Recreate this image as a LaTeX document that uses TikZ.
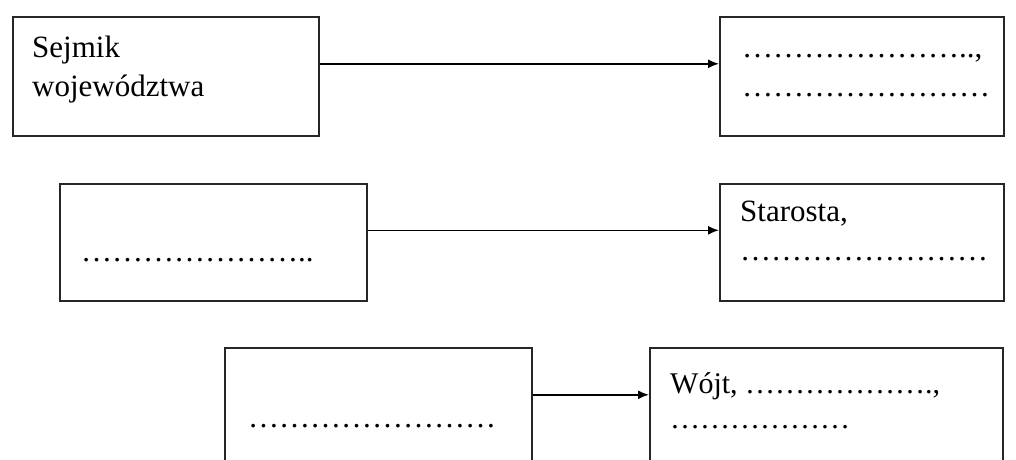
\documentclass[tikz,border=0pt]{standalone}
\usepackage{fontspec}
\setmainfont{Liberation Serif}
\usetikzlibrary{arrows.meta}

% one ellipsis character, three dots
\newcommand{\el}{…}

\tikzset{
  box/.style={draw=black!85, line width=1.6pt, anchor=north west,
    inner sep=0pt, minimum height=119pt},
  txt/.style={anchor=base west, inner sep=0pt, align=left,
    font=\fontsize{31}{39}\selectfont},
  link/.style={draw=black, line width=1.6pt,
    -{Latex[length=11pt,width=9pt]}}
}

\begin{document}
\begin{tikzpicture}[x=1pt,y=-1pt]
      \useasboundingbox (0,0) rectangle (1016,459);
      \clip (0,0) rectangle (1016,459);
      % Sejmik:
      %   top row, left box, linked to the right box
      \node[box, minimum width=306pt] (sejmik) at (12,16) {};
      \node[txt] (sejmiktxt) at ([xshift=20pt,yshift=-80pt]sejmik.north west)
        {Sejmik\\województwa};
      \node[box, minimum width=284pt] (zarzad) at (719,16) {};
      \node[txt] (zarzadtxt) at ([xshift=23pt,yshift=-80pt]zarzad.north west)
        {\el\el\el\el\el\el\el..,\\\el\el\el\el\el\el\el\el};
      % Powiat:
      %   middle row, left box is empty but for the dots
      \node[box, minimum width=307pt, minimum height=117pt] (rada) at (59,183) {};
      \node[txt] (radatxt) at ([xshift=22pt,yshift=-78pt]rada.north west)
        {\el\el\el\el\el\el\el..};
      \node[box, minimum width=284pt, minimum height=117pt] (starosta) at (719,183) {};
      \node[txt] (starostatxt) at ([xshift=21pt,yshift=-77pt]starosta.north west)
        {Starosta,\\\el\el\el\el\el\el\el\el};
      % Gmina:
      %   bottom row, both boxes run off the page
      \node[box, minimum width=307pt, minimum height=140pt] (gmina) at (224,347) {};
      \node[txt] (gminatxt) at ([xshift=24pt,yshift=-80pt]gmina.north west)
        {\el\el\el\el\el\el\el\el};
      \node[box, minimum width=353pt, minimum height=140pt] (wojt) at (649,347) {};
      \node[txt, font=\fontsize{30}{35}\selectfont] (wojttxt)
        at ([xshift=21pt,yshift=-81pt]wojt.north west)
        {Wójt, \el\el\el\el\el\el.,\\\el\el\el\el\el\el};
      % links
      \draw[link] ([yshift=12.5pt]sejmik.east) -- ([yshift=12.5pt]zarzad.west);
      \draw[link] ([yshift=12pt]rada.east) -- ([yshift=12pt]starosta.west);
      \draw[link] ([yshift=23pt]gmina.east) -- ([yshift=23pt]wojt.west);
\end{tikzpicture}
\end{document}
